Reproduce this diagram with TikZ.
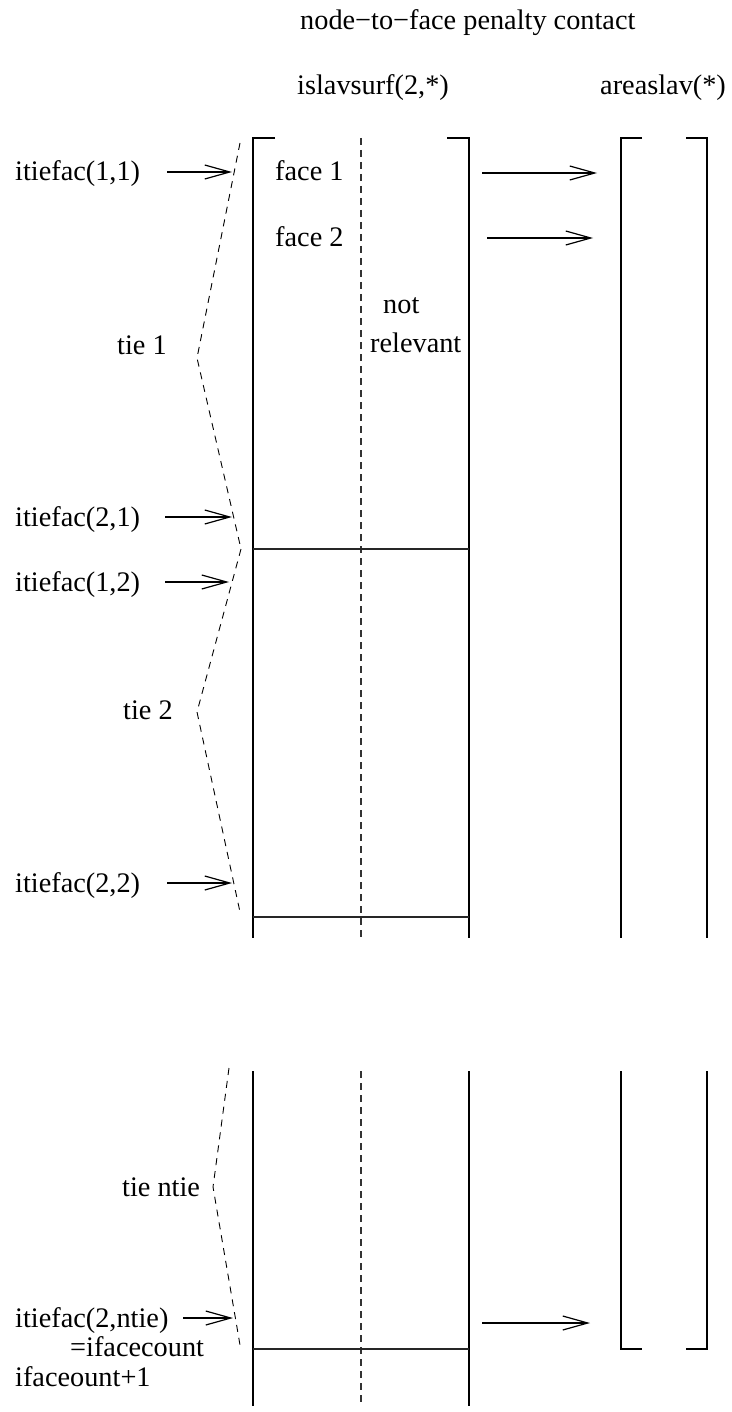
\documentclass[tikz,border=0pt]{standalone}
\usepackage{fontspec}
\setmainfont{Liberation Serif}
\usetikzlibrary{arrows.meta}
\tikzset{
	lbl/.style={anchor=base west, inner sep=0pt, font=\fontsize{28.3}{34}\selectfont},
	wall/.style={line width=1.5pt, draw=black},
	divider/.style={line width=1.3pt, draw=black!85},
	midline/.style={line width=1.2pt, draw=black!80, dash pattern=on 7pt off 5pt},
	tiebrace/.style={line width=0.9pt, draw=black, dash pattern=on 7pt off 6pt},
	ptr/.style={-{Straight Barb[length=25pt, width=14pt, line width=1.2pt]}, line width=1.2pt, draw=black},
}
\begin{document}
\begin{tikzpicture}[x=1pt, y=-1pt]
		\useasboundingbox (0,0) rectangle (731,1412);
		\node[lbl] (title) at (300,30) {node−to−face penalty contact};
		\node[lbl] (surfhead) at (297,95) {islavsurf(2,*)};
		\node[lbl] (areahead) at (600,95) {areaslav(*)};
		\draw[wall] (275,138) -- (253,138) -- (253,938);
		\draw[wall] (447,138) -- (469,138) -- (469,938);
		\draw[midline] (361,138) -- (361,938);
		\draw[divider] (253,549) -- (469,549);
		\draw[divider] (253,917) -- (469,917);
		\draw[wall] (253,1071) -- (253,1406);
		\draw[wall] (469,1071) -- (469,1406);
		\draw[midline] (361,1071) -- (361,1406);
		\draw[divider] (253,1349) -- (469,1349);
		\draw[wall] (642,138) -- (621,138) -- (621,938);
		\draw[wall] (686,138) -- (707,138) -- (707,938);
		\draw[wall] (621,1071) -- (621,1349) -- (642,1349);
		\draw[wall] (707,1071) -- (707,1349) -- (686,1349);
		\node[lbl] (face1) at (275,181) {face 1};
		\node[lbl] (face2) at (275,247) {face 2};
		\node[lbl] (notrel) at (383,313) {not};
		\node[lbl] (relev) at (370,352) {relevant};
		\coordinate (f1a) at (482,173);
		\coordinate (f1b) at (597,173);
		\coordinate (f2a) at (487,238);
		\coordinate (f2b) at (593,238);
		\coordinate (fna) at (482,1323);
		\coordinate (fnb) at (590,1323);
		\draw[ptr] (f1a) -- (f1b);
		\draw[ptr] (f2a) -- (f2b);
		\draw[ptr] (fna) -- (fnb);
		\coordinate (b1top) at (240,143);
		\coordinate (b1tip) at (197,358);
		\coordinate (b12) at (241,549);
		\coordinate (b2tip) at (197,712);
		\coordinate (b2bot) at (240,912);
		\coordinate (b3top) at (229,1068);
		\coordinate (b3tip) at (213,1187);
		\coordinate (b3bot) at (240,1345);
		\draw[tiebrace] (b1top) -- (b1tip) -- (b12);
		\draw[tiebrace] (b12) -- (b2tip) -- (b2bot);
		\draw[tiebrace] (b3top) -- (b3tip) -- (b3bot);
		\node[lbl] (tie1) at (117,354) {tie 1};
		\node[lbl] (tie2) at (123,719) {tie 2};
		\node[lbl] (tien) at (122,1196) {tie ntie};
		\node[lbl] (it11) at (15,181) {itiefac(1,1)};
		\node[lbl] (it21) at (15,526) {itiefac(2,1)};
		\node[lbl] (it12) at (15,591) {itiefac(1,2)};
		\node[lbl] (it22) at (15,892) {itiefac(2,2)};
		\node[lbl] (it2n) at (15,1327) {itiefac(2,ntie)};
		\node[lbl] (fcount) at (70,1356) {=ifacecount};
		\node[lbl] (fnext) at (15,1386) {ifaceount+1};
		\coordinate (a11) at (167,172);
		\coordinate (p11) at (232,172);
		\coordinate (a21) at (165,517);
		\coordinate (p21) at (232,517);
		\coordinate (a12) at (165,582);
		\coordinate (p12) at (229,582);
		\coordinate (a22) at (167,883);
		\coordinate (p22) at (232,883);
		\coordinate (a2n) at (183,1318);
		\coordinate (p2n) at (233,1318);
		\draw[ptr] (a11) -- (p11);
		\draw[ptr] (a21) -- (p21);
		\draw[ptr] (a12) -- (p12);
		\draw[ptr] (a22) -- (p22);
		\draw[ptr] (a2n) -- (p2n);
	\end{tikzpicture}
\end{document}
